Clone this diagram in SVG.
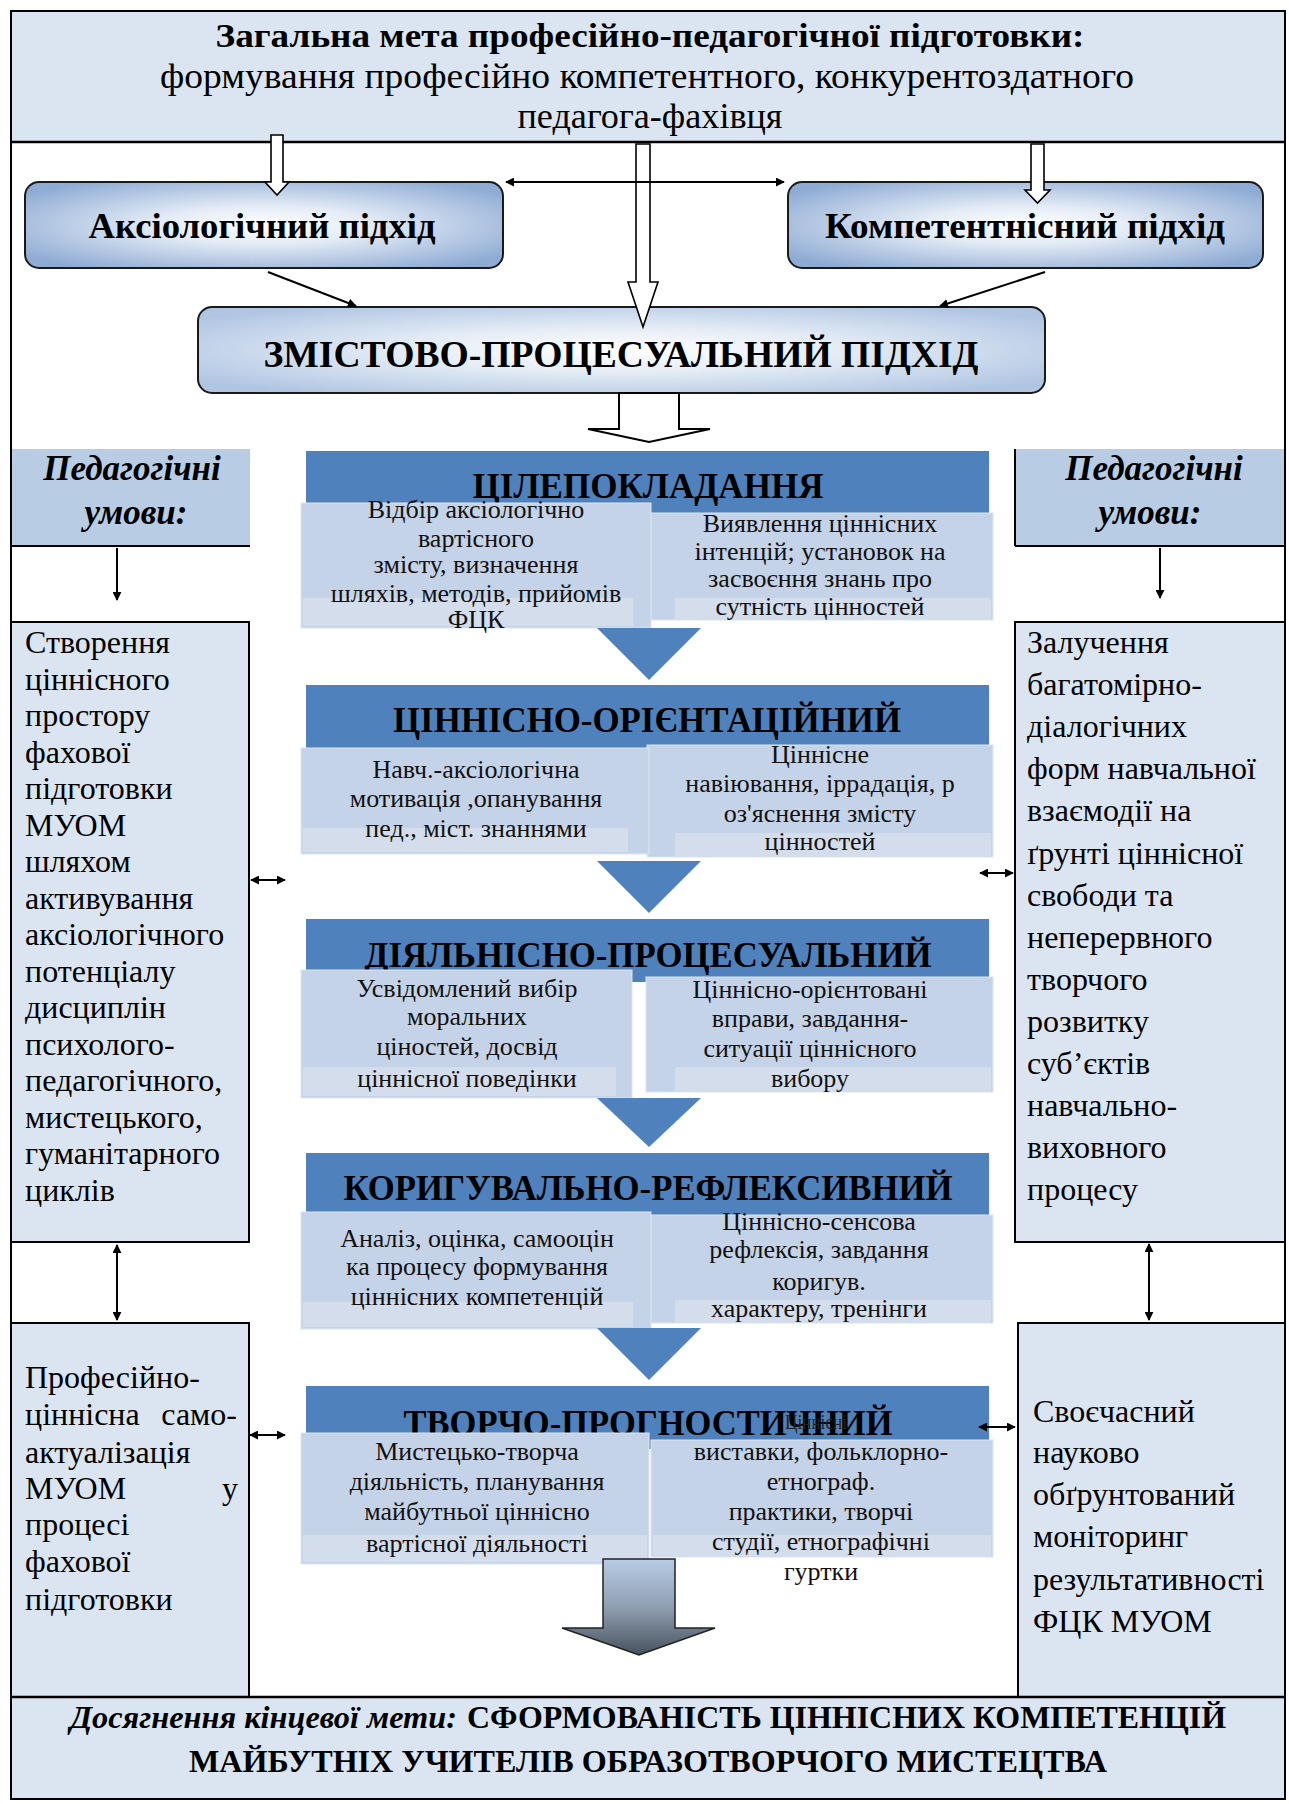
<svg xmlns="http://www.w3.org/2000/svg" width="1289" height="1804" viewBox="0 0 1289 1804" font-family="Times New Roman, Liberation Serif, serif">
<defs>
  <radialGradient id="gApp" cx="50%" cy="50%" r="62%">
    <stop offset="0" stop-color="#ffffff"/>
    <stop offset="0.35" stop-color="#e4ecf6"/>
    <stop offset="1" stop-color="#8eabd4"/>
  </radialGradient>
  <radialGradient id="gMain" cx="50%" cy="50%" r="62%">
    <stop offset="0" stop-color="#ffffff"/>
    <stop offset="0.4" stop-color="#e6edf6"/>
    <stop offset="1" stop-color="#afc5e2"/>
  </radialGradient>
  <linearGradient id="gArrow" x1="0" y1="0" x2="0" y2="1">
    <stop offset="0" stop-color="#b8cce6"/>
    <stop offset="0.5" stop-color="#8f9fb2"/>
    <stop offset="1" stop-color="#48525d"/>
  </linearGradient>
  <marker id="ah" viewBox="0 0 10 10" refX="9" refY="5" markerWidth="4.5" markerHeight="4.5" orient="auto-start-reverse">
    <path d="M0,0 L10,5 L0,10 z" fill="#000"/>
  </marker>
</defs>

<rect x="0" y="0" width="1289" height="1804" fill="#fff"/>

<g id="goal">
  <rect x="11" y="11" width="1274" height="131" fill="#dbe5f1"/>
  <line x1="11" y1="142" x2="1285" y2="142" stroke="#000" stroke-width="2.5"/>
  <text font-family="Times New Roman, Liberation Serif, serif" font-size="34" font-weight="bold" text-anchor="middle" x="650" y="47" textLength="869" lengthAdjust="spacingAndGlyphs">Загальна мета професійно-педагогічної підготовки:</text>
  <text font-family="Times New Roman, Liberation Serif, serif" font-size="35" text-anchor="middle" x="647" y="88" textLength="974" lengthAdjust="spacingAndGlyphs">формування професійно компетентного, конкурентоздатного</text>
  <text font-family="Times New Roman, Liberation Serif, serif" font-size="35" text-anchor="middle" x="650" y="128" textLength="265" lengthAdjust="spacingAndGlyphs">педагога-фахівця</text>
</g>

<g id="axiological">
  <rect x="25" y="182" width="478" height="86" rx="14" fill="url(#gApp)" stroke="#1a1a1a" stroke-width="2"/>
  <text font-family="Times New Roman, Liberation Serif, serif" font-size="36" font-weight="bold" text-anchor="middle" x="262" y="238" textLength="347" lengthAdjust="spacingAndGlyphs">Аксіологічний  підхід</text>
</g>
<g id="competence">
  <rect x="788" y="182" width="475" height="86" rx="14" fill="url(#gApp)" stroke="#1a1a1a" stroke-width="2"/>
  <text font-family="Times New Roman, Liberation Serif, serif" font-size="36" font-weight="bold" text-anchor="middle" x="1025" y="238" textLength="400" lengthAdjust="spacingAndGlyphs">Компетентнісний підхід</text>
</g>
<g id="content-process">
  <rect x="198" y="307" width="847" height="86" rx="14" fill="url(#gMain)" stroke="#1a1a1a" stroke-width="2"/>
  <text font-family="Times New Roman, Liberation Serif, serif" font-size="37" font-weight="bold" text-anchor="middle" x="621" y="367" textLength="715" lengthAdjust="spacingAndGlyphs">ЗМІСТОВО-ПРОЦЕСУАЛЬНИЙ ПІДХІД</text>
</g>

<g id="ped-left">
  <rect x="11" y="449" width="239" height="97" fill="#b8cce4"/>
  <line x1="11" y1="546" x2="250" y2="546" stroke="#000" stroke-width="2"/>
  <text font-family="Times New Roman, Liberation Serif, serif" font-size="35" font-weight="bold" font-style="italic" text-anchor="middle" x="132" y="480">Педагогічні</text>
  <text font-family="Times New Roman, Liberation Serif, serif" font-size="35" font-weight="bold" font-style="italic" text-anchor="middle" x="136" y="524">умови:</text>
</g>
<g id="cond-left" font-size="32">
  <rect x="11" y="622" width="238" height="620" fill="#dbe5f1" stroke="#000" stroke-width="2"/>
  <text font-family="Times New Roman, Liberation Serif, serif" x="25" y="653">Створення</text>
  <text font-family="Times New Roman, Liberation Serif, serif" x="25" y="689.5">ціннісного</text>
  <text font-family="Times New Roman, Liberation Serif, serif" x="25" y="726">простору</text>
  <text font-family="Times New Roman, Liberation Serif, serif" x="25" y="762.5">фахової</text>
  <text font-family="Times New Roman, Liberation Serif, serif" x="25" y="799">підготовки</text>
  <text font-family="Times New Roman, Liberation Serif, serif" x="25" y="835.5">МУОМ</text>
  <text font-family="Times New Roman, Liberation Serif, serif" x="25" y="872">шляхом</text>
  <text font-family="Times New Roman, Liberation Serif, serif" x="25" y="908.5">активування</text>
  <text font-family="Times New Roman, Liberation Serif, serif" x="25" y="945">аксіологічного</text>
  <text font-family="Times New Roman, Liberation Serif, serif" x="25" y="981.5">потенціалу</text>
  <text font-family="Times New Roman, Liberation Serif, serif" x="25" y="1018">дисциплін</text>
  <text font-family="Times New Roman, Liberation Serif, serif" x="25" y="1054.5">психолого-</text>
  <text font-family="Times New Roman, Liberation Serif, serif" x="25" y="1091">педагогічного,</text>
  <text font-family="Times New Roman, Liberation Serif, serif" x="25" y="1127.5">мистецького,</text>
  <text font-family="Times New Roman, Liberation Serif, serif" x="25" y="1164">гуманітарного</text>
  <text font-family="Times New Roman, Liberation Serif, serif" x="25" y="1200.5">циклів</text>
</g>
<g id="selfact-left" font-size="32">
  <rect x="11" y="1323" width="238" height="374" fill="#dbe5f1" stroke="#000" stroke-width="2"/>
  <text font-family="Times New Roman, Liberation Serif, serif" x="25" y="1388">Професійно-</text>
  <text font-family="Times New Roman, Liberation Serif, serif" x="25" y="1425">ціннісна</text>
  <text font-family="Times New Roman, Liberation Serif, serif" text-anchor="end" x="237" y="1425">само-</text>
  <text font-family="Times New Roman, Liberation Serif, serif" x="25" y="1463">актуалізація</text>
  <text font-family="Times New Roman, Liberation Serif, serif" x="25" y="1499">МУОМ</text>
  <text font-family="Times New Roman, Liberation Serif, serif" text-anchor="end" x="238" y="1499">у</text>
  <text font-family="Times New Roman, Liberation Serif, serif" x="25" y="1535">процесі</text>
  <text font-family="Times New Roman, Liberation Serif, serif" x="25" y="1572">фахової</text>
  <text font-family="Times New Roman, Liberation Serif, serif" x="25" y="1610">підготовки</text>
</g>

<g id="ped-right">
  <rect x="1015" y="449" width="270" height="97" fill="#b8cce4"/>
  <line x1="1015" y1="449" x2="1015" y2="546" stroke="#000" stroke-width="2"/>
  <line x1="1015" y1="546" x2="1285" y2="546" stroke="#000" stroke-width="2"/>
  <text font-family="Times New Roman, Liberation Serif, serif" font-size="35" font-weight="bold" font-style="italic" text-anchor="middle" x="1154" y="480">Педагогічні</text>
  <text font-family="Times New Roman, Liberation Serif, serif" font-size="35" font-weight="bold" font-style="italic" text-anchor="middle" x="1150" y="524">умови:</text>
</g>
<g id="cond-right" font-size="32">
  <rect x="1015" y="622" width="270" height="620" fill="#dbe5f1" stroke="#000" stroke-width="2"/>
  <text font-family="Times New Roman, Liberation Serif, serif" x="1027" y="653">Залучення</text>
  <text font-family="Times New Roman, Liberation Serif, serif" x="1027" y="695.1">багатомірно-</text>
  <text font-family="Times New Roman, Liberation Serif, serif" x="1027" y="737.2">діалогічних</text>
  <text font-family="Times New Roman, Liberation Serif, serif" x="1027" y="779.3">форм навчальної</text>
  <text font-family="Times New Roman, Liberation Serif, serif" x="1027" y="821.4">взаємодії  на</text>
  <text font-family="Times New Roman, Liberation Serif, serif" x="1027" y="863.5">ґрунті ціннісної</text>
  <text font-family="Times New Roman, Liberation Serif, serif" x="1027" y="905.6">свободи та</text>
  <text font-family="Times New Roman, Liberation Serif, serif" x="1027" y="947.7">неперервного</text>
  <text font-family="Times New Roman, Liberation Serif, serif" x="1027" y="989.8">творчого</text>
  <text font-family="Times New Roman, Liberation Serif, serif" x="1027" y="1031.9">розвитку</text>
  <text font-family="Times New Roman, Liberation Serif, serif" x="1027" y="1074">суб’єктів</text>
  <text font-family="Times New Roman, Liberation Serif, serif" x="1027" y="1116.1">навчально-</text>
  <text font-family="Times New Roman, Liberation Serif, serif" x="1027" y="1158.2">виховного</text>
  <text font-family="Times New Roman, Liberation Serif, serif" x="1027" y="1200.3">процесу</text>
</g>
<g id="monitor-right" font-size="32">
  <rect x="1018" y="1323" width="267" height="374" fill="#dbe5f1" stroke="#000" stroke-width="2"/>
  <text font-family="Times New Roman, Liberation Serif, serif" x="1033" y="1422">Своєчасний</text>
  <text font-family="Times New Roman, Liberation Serif, serif" x="1033" y="1463">науково</text>
  <text font-family="Times New Roman, Liberation Serif, serif" x="1033" y="1505">обґрунтований</text>
  <text font-family="Times New Roman, Liberation Serif, serif" x="1033" y="1547">моніторинг</text>
  <text font-family="Times New Roman, Liberation Serif, serif" x="1033" y="1590">результативності</text>
  <text font-family="Times New Roman, Liberation Serif, serif" x="1033" y="1632">ФЦК МУОМ</text>
</g>

<g id="stage1">
  <rect x="306" y="451" width="683" height="63" fill="#4f81bd"/>
  <text font-family="Times New Roman, Liberation Serif, serif" font-size="35" font-weight="bold" text-anchor="middle" x="648" y="498" textLength="351" lengthAdjust="spacingAndGlyphs">ЦІЛЕПОКЛАДАННЯ</text>
  <rect x="647" y="513" width="346" height="107" fill="#c5d3e8" stroke="#dde5f0"/>
  <rect x="675" y="598" width="316" height="22" fill="#d4ddeb"/>
  <rect x="301" y="503" width="350" height="125" fill="#c5d3e8" stroke="#dde5f0"/>
  <rect x="303" y="598" width="330" height="28" fill="#d4ddeb"/>
  <g font-size="26" text-anchor="middle" fill="#111">
    <text font-family="Times New Roman, Liberation Serif, serif" x="476" y="518">Відбір аксіологічно</text>
    <text font-family="Times New Roman, Liberation Serif, serif" x="476" y="547">вартісного</text>
    <text font-family="Times New Roman, Liberation Serif, serif" x="476" y="573">змісту,  визначення</text>
    <text font-family="Times New Roman, Liberation Serif, serif" x="476" y="602">шляхів, методів, прийомів</text>
    <text font-family="Times New Roman, Liberation Serif, serif" x="476" y="628">ФЦК</text>
    <text font-family="Times New Roman, Liberation Serif, serif" x="820" y="532">Виявлення  ціннісних</text>
    <text font-family="Times New Roman, Liberation Serif, serif" x="820" y="560">інтенцій; установок на</text>
    <text font-family="Times New Roman, Liberation Serif, serif" x="820" y="587">засвоєння  знань про</text>
    <text font-family="Times New Roman, Liberation Serif, serif" x="820" y="615">сутність цінностей</text>
  </g>
</g>
<polygon fill="#4f81bd" points="597,628 701,628 649,680"/>

<g id="stage2">
  <rect x="306" y="685" width="683" height="63" fill="#4f81bd"/>
  <text font-family="Times New Roman, Liberation Serif, serif" font-size="35" font-weight="bold" text-anchor="middle" x="647" y="732" textLength="508" lengthAdjust="spacingAndGlyphs">ЦІННІСНО-ОРІЄНТАЦІЙНИЙ</text>
  <rect x="647" y="745" width="346" height="112" fill="#c5d3e8" stroke="#dde5f0"/>
  <rect x="675" y="833" width="316" height="24" fill="#d4ddeb"/>
  <rect x="301" y="748" width="348" height="106" fill="#c5d3e8" stroke="#dde5f0"/>
  <rect x="303" y="828" width="325" height="24" fill="#d4ddeb"/>
  <g font-size="26" text-anchor="middle" fill="#111">
    <text font-family="Times New Roman, Liberation Serif, serif" x="476" y="778">Навч.-аксіологічна</text>
    <text font-family="Times New Roman, Liberation Serif, serif" x="476" y="807">мотивація ,опанування</text>
    <text font-family="Times New Roman, Liberation Serif, serif" x="476" y="837">пед., міст. знаннями</text>
    <text font-family="Times New Roman, Liberation Serif, serif" x="820" y="763">Ціннісне</text>
    <text font-family="Times New Roman, Liberation Serif, serif" x="820" y="792">навіювання, іррадація, р</text>
    <text font-family="Times New Roman, Liberation Serif, serif" x="820" y="822">оз'яснення змісту</text>
    <text font-family="Times New Roman, Liberation Serif, serif" x="820" y="850">цінностей</text>
  </g>
</g>
<polygon fill="#4f81bd" points="597,861 701,861 649,913"/>

<g id="stage3">
  <rect x="306" y="919" width="683" height="63" fill="#4f81bd"/>
  <text font-family="Times New Roman, Liberation Serif, serif" font-size="35" font-weight="bold" text-anchor="middle" x="648" y="967" textLength="567" lengthAdjust="spacingAndGlyphs">ДІЯЛЬНІСНО-ПРОЦЕСУАЛЬНИЙ</text>
  <rect x="646" y="977" width="347" height="115" fill="#c5d3e8" stroke="#dde5f0"/>
  <rect x="675" y="1067" width="316" height="25" fill="#d4ddeb"/>
  <rect x="301" y="970" width="331" height="128" fill="#c5d3e8" stroke="#dde5f0"/>
  <rect x="303" y="1067" width="313" height="29" fill="#d4ddeb"/>
  <g font-size="26" text-anchor="middle" fill="#111">
    <text font-family="Times New Roman, Liberation Serif, serif" x="467" y="997">Усвідомлений вибір</text>
    <text font-family="Times New Roman, Liberation Serif, serif" x="467" y="1025">моральних</text>
    <text font-family="Times New Roman, Liberation Serif, serif" x="467" y="1055">ціностей, досвід</text>
    <text font-family="Times New Roman, Liberation Serif, serif" x="467" y="1087">ціннісної поведінки</text>
    <text font-family="Times New Roman, Liberation Serif, serif" x="810" y="998">Ціннісно-орієнтовані</text>
    <text font-family="Times New Roman, Liberation Serif, serif" x="810" y="1027">вправи,   завдання-</text>
    <text font-family="Times New Roman, Liberation Serif, serif" x="810" y="1057">ситуації  ціннісного</text>
    <text font-family="Times New Roman, Liberation Serif, serif" x="810" y="1087">вибору</text>
  </g>
</g>
<polygon fill="#4f81bd" points="597,1098 701,1098 649,1147"/>

<g id="stage4">
  <rect x="306" y="1153" width="683" height="63" fill="#4f81bd"/>
  <text font-family="Times New Roman, Liberation Serif, serif" font-size="35" font-weight="bold" text-anchor="middle" x="648" y="1200" textLength="609" lengthAdjust="spacingAndGlyphs">КОРИГУВАЛЬНО-РЕФЛЕКСИВНИЙ</text>
  <rect x="646" y="1215" width="347" height="108" fill="#c5d3e8" stroke="#dde5f0"/>
  <rect x="675" y="1300" width="316" height="23" fill="#d4ddeb"/>
  <rect x="301" y="1212" width="350" height="117" fill="#c5d3e8" stroke="#dde5f0"/>
  <rect x="303" y="1302" width="330" height="25" fill="#d4ddeb"/>
  <g font-size="26" text-anchor="middle" fill="#111">
    <text font-family="Times New Roman, Liberation Serif, serif" x="477" y="1247">Аналіз, оцінка, самооцін</text>
    <text font-family="Times New Roman, Liberation Serif, serif" x="477" y="1275">ка процесу формування</text>
    <text font-family="Times New Roman, Liberation Serif, serif" x="477" y="1305">ціннісних компетенцій</text>
    <text font-family="Times New Roman, Liberation Serif, serif" x="819" y="1230">Ціннісно-сенсова</text>
    <text font-family="Times New Roman, Liberation Serif, serif" x="819" y="1258">рефлексія, завдання</text>
    <text font-family="Times New Roman, Liberation Serif, serif" x="819" y="1290">коригув.</text>
    <text font-family="Times New Roman, Liberation Serif, serif" x="819" y="1317">характеру, тренінги</text>
  </g>
</g>
<polygon fill="#4f81bd" points="597,1328 701,1328 649,1380"/>

<g id="stage5">
  <rect x="306" y="1386" width="683" height="63" fill="#4f81bd"/>
  <text font-family="Times New Roman, Liberation Serif, serif" font-size="35" font-weight="bold" text-anchor="middle" x="648" y="1435" textLength="489" lengthAdjust="spacingAndGlyphs">ТВОРЧО-ПРОГНОСТИЧНИЙ</text>
  <text font-family="Times New Roman, Liberation Serif, serif" x="785" y="1429" font-size="20" fill="#222" textLength="62" lengthAdjust="spacingAndGlyphs">Ціннісні</text>
  <rect x="651" y="1440" width="342" height="117" fill="#c5d3e8" stroke="#dde5f0"/>
  <rect x="653" y="1535" width="338" height="22" fill="#d4ddeb"/>
  <rect x="301" y="1433" width="348" height="131" fill="#c5d3e8" stroke="#dde5f0"/>
  <rect x="303" y="1535" width="344" height="27" fill="#d4ddeb"/>
  <g font-size="26" text-anchor="middle" fill="#111">
    <text font-family="Times New Roman, Liberation Serif, serif" x="477" y="1460">Мистецько-творча</text>
    <text font-family="Times New Roman, Liberation Serif, serif" x="477" y="1490">діяльність, планування</text>
    <text font-family="Times New Roman, Liberation Serif, serif" x="477" y="1520">майбутньої ціннісно</text>
    <text font-family="Times New Roman, Liberation Serif, serif" x="477" y="1552">вартісної діяльності</text>
    <text font-family="Times New Roman, Liberation Serif, serif" x="821" y="1460">виставки, фольклорно-</text>
    <text font-family="Times New Roman, Liberation Serif, serif" x="821" y="1490">етнограф.</text>
    <text font-family="Times New Roman, Liberation Serif, serif" x="821" y="1520">практики, творчі</text>
    <text font-family="Times New Roman, Liberation Serif, serif" x="821" y="1550">студії, етнографічні</text>
    <text font-family="Times New Roman, Liberation Serif, serif" x="821" y="1580">гуртки</text>
  </g>
</g>

<g id="final">
  <rect x="11" y="1697" width="1274" height="102" fill="#dbe5f1"/>
  <line x1="11" y1="1697" x2="1285" y2="1697" stroke="#000" stroke-width="2.5"/>
  <text font-family="Times New Roman, Liberation Serif, serif" font-size="32" font-weight="bold" font-style="italic" x="70" y="1728" textLength="387" lengthAdjust="spacingAndGlyphs">Досягнення кінцевої мети:</text>
  <text font-family="Times New Roman, Liberation Serif, serif" font-size="32" font-weight="bold" x="467" y="1728" textLength="759" lengthAdjust="spacingAndGlyphs">СФОРМОВАНІСТЬ  ЦІННІСНИХ  КОМПЕТЕНЦІЙ</text>
  <text font-family="Times New Roman, Liberation Serif, serif" font-size="32" font-weight="bold" text-anchor="middle" x="648" y="1772" textLength="918" lengthAdjust="spacingAndGlyphs">МАЙБУТНІХ  УЧИТЕЛІВ ОБРАЗОТВОРЧОГО МИСТЕЦТВА</text>
</g>

<g id="connectors" stroke="#000">
  <polygon fill="#fff" stroke-width="1.6" points="271,135 283,135 283,182 289,182 277,195 265,182 271,182"/>
  <polygon fill="#fff" stroke-width="1.6" points="636,144 650,144 650,282 658,282 643,327 628,282 636,282"/>
  <polygon fill="#fff" stroke-width="1.6" points="1031,144 1044,144 1044,190 1050,190 1037.5,203 1025,190 1031,190"/>
  <line stroke-width="2" x1="506" y1="182" x2="784" y2="182" marker-start="url(#ah)" marker-end="url(#ah)"/>
  <line stroke-width="2" x1="268" y1="272" x2="356" y2="306" marker-end="url(#ah)"/>
  <line stroke-width="2" x1="1045" y1="272" x2="940" y2="306" marker-end="url(#ah)"/>
  <polygon fill="#fff" stroke-width="2" points="619,393 679,393 679,429 710,429 649,442 588,429 619,429"/>
  <line stroke-width="2" x1="117" y1="548" x2="117" y2="600" marker-end="url(#ah)"/>
  <line stroke-width="2" x1="1160" y1="548" x2="1160" y2="598" marker-end="url(#ah)"/>
  <line stroke-width="2" x1="251" y1="880" x2="285" y2="880" marker-start="url(#ah)" marker-end="url(#ah)"/>
  <line stroke-width="2" x1="980" y1="873" x2="1013" y2="873" marker-start="url(#ah)" marker-end="url(#ah)"/>
  <line stroke-width="2" x1="117" y1="1245" x2="117" y2="1320" marker-start="url(#ah)" marker-end="url(#ah)"/>
  <line stroke-width="2" x1="1149" y1="1244" x2="1149" y2="1320" marker-start="url(#ah)" marker-end="url(#ah)"/>
  <line stroke-width="2" x1="250" y1="1435" x2="285" y2="1435" marker-start="url(#ah)" marker-end="url(#ah)"/>
  <line stroke-width="2" x1="979" y1="1427" x2="1015" y2="1427" marker-start="url(#ah)" marker-end="url(#ah)"/>
  <polygon fill="url(#gArrow)" stroke="#222" stroke-width="1.5" points="603,1559 675,1559 675,1628 715,1628 639,1655 562,1628 603,1628"/>
</g>

<rect x="11" y="11" width="1274" height="1788" fill="none" stroke="#000" stroke-width="2"/>
</svg>
